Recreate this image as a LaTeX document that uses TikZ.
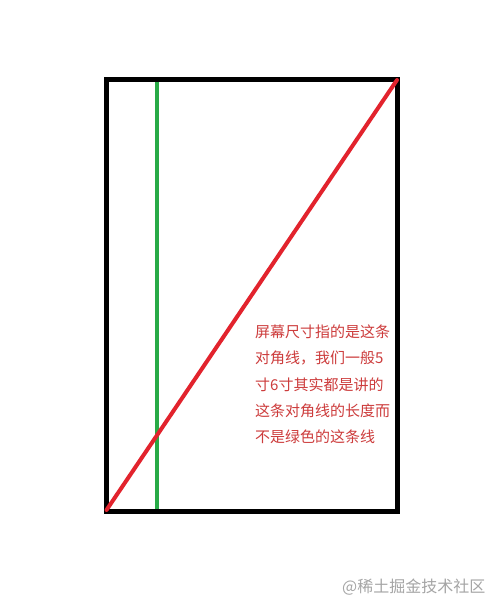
\documentclass[tikz,border=0pt]{standalone}
\usepackage{fontspec}
\newfontfamily\cjk{Noto Sans CJK SC}
\definecolor{frameblack}{RGB}{0,0,0}
\definecolor{diagred}{RGB}{226,35,45}
\definecolor{diaggreen}{RGB}{40,170,70}
\definecolor{textred}{RGB}{205,60,60}
\definecolor{wmgray}{RGB}{165,165,165}
\tikzset{
  frame/.style={draw=frameblack, line width=5pt},
  diag/.style={draw=diagred, line width=4pt, line cap=round},
  greenline/.style={draw=diaggreen, line width=4pt},
  note/.style={text=textred, font=\cjk\fontsize{15}{26.2}\selectfont, align=left, inner sep=0pt},
  mark wm/.style={text=wmgray, font=\cjk\fontsize{16}{18}\selectfont, inner sep=0pt}
}
\begin{document}
\begin{tikzpicture}[x=1pt,y=-1pt]
\useasboundingbox[fill=white] (0,0) rectangle (504,614);
\coordinate (tl) at (106.5,79.5);
\coordinate (br) at (397.5,511.5);
\coordinate (gt) at (156.5,79.5);
\coordinate (gb) at (156.5,511.5);
\coordinate (rb) at (106.5,510);
\coordinate (rt) at (397,80);
\draw[greenline] (gt) -- (gb);
\draw[frame] (tl) rectangle (br);
\draw[diag] (rb) -- (rt);
\node[note, anchor=base west] (txt) at (255,442.5) {屏幕尺寸指的是这条\\对角线，我们一般5\\寸6寸其实都是讲的\\这条对角线的长度而\\不是绿色的这条线};
\node[mark wm, anchor=west] (wm) at (342,587) {@稀土掘金技术社区};
\end{tikzpicture}
\end{document}
